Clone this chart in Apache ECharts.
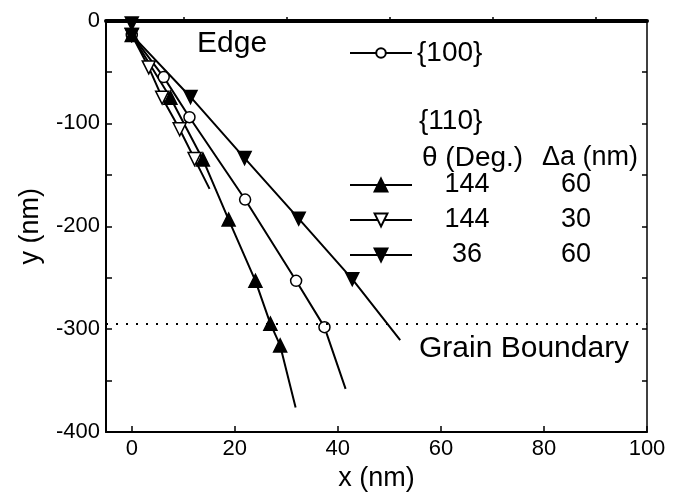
<!DOCTYPE html>
<html>
<head>
<meta charset="utf-8">
<script src="https://cdn.jsdelivr.net/npm/echarts@6/dist/echarts.min.js"></script>
<style>
  html, body { margin: 0; padding: 0; background: #fff; }
  #chart { width: 681px; height: 497px; }
</style>
</head>
<body>
<div id="chart"></div>
<script>
// Dislocation paths y(x) from the edge toward the grain boundary (nm)

// {100} path (open circles)
const path100 = [[0, -14], [6.2, -55], [11.2, -94], [22.0, -174], [31.9, -253], [37.4, -298]];
const path100End = [41.5, -358];

// {110}, theta = 144 deg, delta a = 60 nm (filled up-triangles)
const path144a60 = [[0, -14], [7.5, -75], [13.8, -135], [18.8, -193.5], [24.0, -253], [26.9, -294.6], [28.8, -315.8]];
const path144a60End = [31.8, -376];

// {110}, theta = 144 deg, delta a = 30 nm (open down-triangles)
const path144a30 = [[0, -14], [3.3, -45.6], [5.9, -75], [9.3, -105.7], [12.2, -134.7]];
const path144a30End = [15.1, -163.6];

// {110}, theta = 36 deg, delta a = 60 nm (filled down-triangles)
const path36a60 = [[0, -3], [0, -14], [11.4, -74.3], [21.9, -133.7], [32.4, -192.6], [42.8, -251.4]];
const path36a60End = [52.1, -310.6];

// Grain boundary depth
const grainBoundaryY = -295;

// Axis ticks
const xMajorTicks = [0, 20, 40, 60, 80, 100];
const xMinorTicks = [10, 30, 50, 70, 90];

// Legend table rows: [theta, delta a]
const legendRows = {
  'r144-60': ['144', '60'],
  'r144-30': ['144', '30'],
  'r36-60': ['36', '60']
};

const FONT = 'Liberation Sans, Arial, Helvetica, sans-serif';

function withEnd(points, end) {
  return points.map(p => p.slice()).concat([{ value: end, symbol: 'none' }]);
}

function pathSeries(name, points, end, symbol, rotate, size, fill) {
  return {
    name: name,
    type: 'line',
    xAxisIndex: 0,
    yAxisIndex: 0,
    data: withEnd(points, end),
    symbol: symbol,
    symbolSize: size,
    symbolRotate: rotate,
    showAllSymbol: true,
    lineStyle: { color: '#000', width: 2 },
    itemStyle: { color: fill, borderColor: '#000', borderWidth: 1.5, opacity: 1 },
    emphasis: { disabled: true },
    animation: false,
    z: 3
  };
}

const chart = echarts.init(document.getElementById('chart'), null, { renderer: 'canvas' });

const series = [
  pathSeries('{100}', path100, path100End, 'circle', 0, 11, '#fff'),
  pathSeries('r144-60', path144a60, path144a60End, 'triangle', 0, 13, '#000'),
  pathSeries('r144-30', path144a30, path144a30End, 'triangle', 180, 13, '#fff'),
  pathSeries('r36-60', path36a60, path36a60End, 'triangle', 180, 13, '#000')
];

series[0].markLine = {
  silent: true,
  symbol: ['none', 'none'],
  label: { show: false },
  lineStyle: { color: '#000', width: 2, type: [2, 8] },
  data: [{ yAxis: grainBoundaryY }]
};

const option = {
  backgroundColor: '#fff',
  animation: false,
  textStyle: { fontFamily: FONT, color: '#000' },
  grid: { left: 106, right: 34, top: 20.5, bottom: 62, containLabel: false },
  xAxis: [
    {
      type: 'value', position: 'bottom', min: -5, max: 100,
      axisLine: { show: true, onZero: false, lineStyle: { color: '#000', width: 2 } },
      axisTick: { show: true, inside: true, length: 6, customValues: xMajorTicks, lineStyle: { color: '#000', width: 1.5 } },
      axisLabel: { show: true, customValues: xMajorTicks, fontSize: 22, color: '#000', fontFamily: FONT, margin: 6 },
      splitLine: { show: false },
      name: 'x (nm)', nameLocation: 'middle', nameGap: 32,
      nameTextStyle: { fontSize: 27, color: '#000', fontFamily: FONT }
    },
    {
      type: 'value', position: 'bottom', min: -5, max: 100,
      axisLine: { show: false },
      axisTick: { show: true, inside: true, length: 3.5, customValues: xMinorTicks, lineStyle: { color: '#000', width: 1.5 } },
      axisLabel: { show: false },
      splitLine: { show: false }
    },
    {
      type: 'value', position: 'top', min: -5, max: 100,
      axisLine: { show: true, onZero: false, lineStyle: { color: '#000', width: 4 } },
      axisTick: { show: false },
      axisLabel: { show: false },
      splitLine: { show: false }
    }
  ],
  yAxis: [
    {
      type: 'value', position: 'left', min: -400, max: 0, interval: 100,
      axisLine: { show: true, onZero: false, lineStyle: { color: '#000', width: 2 } },
      axisTick: { show: true, inside: true, length: 6, lineStyle: { color: '#000', width: 1.5 } },
      minorTick: { show: true, splitNumber: 2, length: 6, lineStyle: { color: '#000', width: 1.5 } },
      axisLabel: { fontSize: 22, color: '#000', fontFamily: FONT, margin: 6 },
      splitLine: { show: false },
      minorSplitLine: { show: false },
      name: 'y (nm)', nameLocation: 'middle', nameGap: 62,
      nameTextStyle: { fontSize: 27, color: '#000', fontFamily: FONT }
    },
    {
      type: 'value', position: 'right', min: -400, max: 0, interval: 50,
      axisLine: { show: true, onZero: false, lineStyle: { color: '#000', width: 1.5 } },
      axisTick: { show: true, inside: true, length: 5, lineStyle: { color: '#000', width: 1.5 } },
      axisLabel: { show: false },
      splitLine: { show: false }
    }
  ],
  legend: [
    {
      data: ['{100}'],
      orient: 'vertical',
      left: 349, top: 38,
      padding: 0,
      itemWidth: 62, itemHeight: 12,
      selectedMode: false,
      textStyle: { fontSize: 28, lineHeight: 30, color: '#000', fontFamily: FONT }
    },
    {
      data: ['r144-60', 'r144-30', 'r36-60'],
      orient: 'vertical',
      left: 349, top: 170,
      padding: 0,
      itemGap: 5,
      itemWidth: 62, itemHeight: 16,
      selectedMode: false,
      formatter: function (name) {
        const r = legendRows[name];
        return '{a|' + r[0] + '}{b|' + r[1] + '}';
      },
      textStyle: {
        fontSize: 27, lineHeight: 30, color: '#000', fontFamily: FONT,
        rich: {
          a: { width: 100, align: 'center', fontSize: 27, fontFamily: FONT, color: '#000' },
          b: { width: 118, align: 'center', fontSize: 27, fontFamily: FONT, color: '#000' }
        }
      }
    }
  ],
  graphic: [
    { type: 'text', left: 197, top: 29, style: { text: 'Edge', font: '30px ' + FONT, fill: '#000' } },
    { type: 'text', left: 419, top: 334, style: { text: 'Grain Boundary', font: '30px ' + FONT, fill: '#000' } },
    { type: 'text', left: 419, top: 107, style: { text: '{110}', font: '28px ' + FONT, fill: '#000' } },
    { type: 'text', left: 422, top: 144, style: { text: 'θ (Deg.)', font: '28px ' + FONT, fill: '#000' } },
    { type: 'text', left: 542, top: 144, style: { text: 'Δa (nm)', font: '27px ' + FONT, fill: '#000' } }
  ],
  series: series
};

chart.setOption(option);
</script>
</body>
</html>
